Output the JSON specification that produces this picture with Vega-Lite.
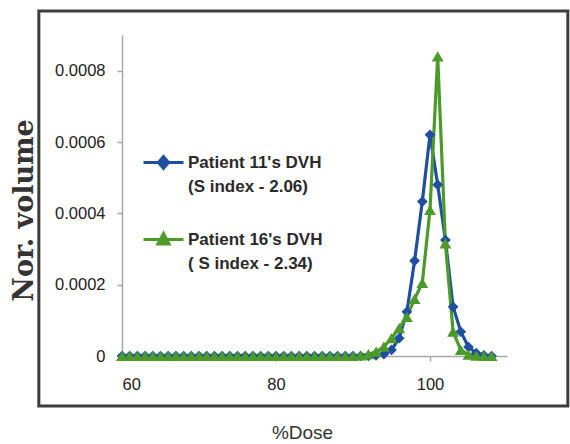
{
  "$schema": "https://vega.github.io/schema/vega-lite/v6.json",
  "width": 385,
  "height": 321,
  "autosize": {"type": "none"},
  "padding": {"left": 122, "top": 35, "right": 63, "bottom": 88},
  "background": "white",
  "config": {"view": {"stroke": null}, "font": "Liberation Sans"},
  "data": {
    "values": [
      {"dose": 60, "vol": 0, "series": "Patient 11"},
      {"dose": 61, "vol": 0, "series": "Patient 11"},
      {"dose": 62, "vol": 0, "series": "Patient 11"},
      {"dose": 63, "vol": 0, "series": "Patient 11"},
      {"dose": 64, "vol": 0, "series": "Patient 11"},
      {"dose": 65, "vol": 0, "series": "Patient 11"},
      {"dose": 66, "vol": 0, "series": "Patient 11"},
      {"dose": 67, "vol": 0, "series": "Patient 11"},
      {"dose": 68, "vol": 0, "series": "Patient 11"},
      {"dose": 69, "vol": 0, "series": "Patient 11"},
      {"dose": 70, "vol": 0, "series": "Patient 11"},
      {"dose": 71, "vol": 0, "series": "Patient 11"},
      {"dose": 72, "vol": 0, "series": "Patient 11"},
      {"dose": 73, "vol": 0, "series": "Patient 11"},
      {"dose": 74, "vol": 0, "series": "Patient 11"},
      {"dose": 75, "vol": 0, "series": "Patient 11"},
      {"dose": 76, "vol": 0, "series": "Patient 11"},
      {"dose": 77, "vol": 0, "series": "Patient 11"},
      {"dose": 78, "vol": 0, "series": "Patient 11"},
      {"dose": 79, "vol": 0, "series": "Patient 11"},
      {"dose": 80, "vol": 0, "series": "Patient 11"},
      {"dose": 81, "vol": 0, "series": "Patient 11"},
      {"dose": 82, "vol": 0, "series": "Patient 11"},
      {"dose": 83, "vol": 0, "series": "Patient 11"},
      {"dose": 84, "vol": 0, "series": "Patient 11"},
      {"dose": 85, "vol": 0, "series": "Patient 11"},
      {"dose": 86, "vol": 0, "series": "Patient 11"},
      {"dose": 87, "vol": 0, "series": "Patient 11"},
      {"dose": 88, "vol": 0, "series": "Patient 11"},
      {"dose": 89, "vol": 0, "series": "Patient 11"},
      {"dose": 90, "vol": 0, "series": "Patient 11"},
      {"dose": 91, "vol": 0, "series": "Patient 11"},
      {"dose": 92, "vol": 0, "series": "Patient 11"},
      {"dose": 93, "vol": 0.000002, "series": "Patient 11"},
      {"dose": 94, "vol": 0.000005, "series": "Patient 11"},
      {"dose": 95, "vol": 0.000017, "series": "Patient 11"},
      {"dose": 96, "vol": 0.00005, "series": "Patient 11"},
      {"dose": 97, "vol": 0.000124, "series": "Patient 11"},
      {"dose": 98, "vol": 0.000267, "series": "Patient 11"},
      {"dose": 99, "vol": 0.000433, "series": "Patient 11"},
      {"dose": 100, "vol": 0.00062, "series": "Patient 11"},
      {"dose": 101, "vol": 0.00048, "series": "Patient 11"},
      {"dose": 102, "vol": 0.000325, "series": "Patient 11"},
      {"dose": 103, "vol": 0.000138, "series": "Patient 11"},
      {"dose": 104, "vol": 0.000068, "series": "Patient 11"},
      {"dose": 105, "vol": 0.000025, "series": "Patient 11"},
      {"dose": 106, "vol": 0.000008, "series": "Patient 11"},
      {"dose": 107, "vol": 0.000002, "series": "Patient 11"},
      {"dose": 108, "vol": 0, "series": "Patient 11"},
      {"dose": 60, "vol": 0, "series": "Patient 16"},
      {"dose": 61, "vol": 0, "series": "Patient 16"},
      {"dose": 62, "vol": 0, "series": "Patient 16"},
      {"dose": 63, "vol": 0, "series": "Patient 16"},
      {"dose": 64, "vol": 0, "series": "Patient 16"},
      {"dose": 65, "vol": 0, "series": "Patient 16"},
      {"dose": 66, "vol": 0, "series": "Patient 16"},
      {"dose": 67, "vol": 0, "series": "Patient 16"},
      {"dose": 68, "vol": 0, "series": "Patient 16"},
      {"dose": 69, "vol": 0, "series": "Patient 16"},
      {"dose": 70, "vol": 0, "series": "Patient 16"},
      {"dose": 71, "vol": 0, "series": "Patient 16"},
      {"dose": 72, "vol": 0, "series": "Patient 16"},
      {"dose": 73, "vol": 0, "series": "Patient 16"},
      {"dose": 74, "vol": 0, "series": "Patient 16"},
      {"dose": 75, "vol": 0, "series": "Patient 16"},
      {"dose": 76, "vol": 0, "series": "Patient 16"},
      {"dose": 77, "vol": 0, "series": "Patient 16"},
      {"dose": 78, "vol": 0, "series": "Patient 16"},
      {"dose": 79, "vol": 0, "series": "Patient 16"},
      {"dose": 80, "vol": 0, "series": "Patient 16"},
      {"dose": 81, "vol": 0, "series": "Patient 16"},
      {"dose": 82, "vol": 0, "series": "Patient 16"},
      {"dose": 83, "vol": 0, "series": "Patient 16"},
      {"dose": 84, "vol": 0, "series": "Patient 16"},
      {"dose": 85, "vol": 0, "series": "Patient 16"},
      {"dose": 86, "vol": 0, "series": "Patient 16"},
      {"dose": 87, "vol": 0, "series": "Patient 16"},
      {"dose": 88, "vol": 0, "series": "Patient 16"},
      {"dose": 89, "vol": 0, "series": "Patient 16"},
      {"dose": 90, "vol": 0, "series": "Patient 16"},
      {"dose": 91, "vol": 0.000002, "series": "Patient 16"},
      {"dose": 92, "vol": 0.000005, "series": "Patient 16"},
      {"dose": 93, "vol": 0.000012, "series": "Patient 16"},
      {"dose": 94, "vol": 0.000026, "series": "Patient 16"},
      {"dose": 95, "vol": 0.00005, "series": "Patient 16"},
      {"dose": 96, "vol": 0.000078, "series": "Patient 16"},
      {"dose": 97, "vol": 0.00011, "series": "Patient 16"},
      {"dose": 98, "vol": 0.00016, "series": "Patient 16"},
      {"dose": 99, "vol": 0.000205, "series": "Patient 16"},
      {"dose": 100, "vol": 0.00041, "series": "Patient 16"},
      {"dose": 101, "vol": 0.00084, "series": "Patient 16"},
      {"dose": 102, "vol": 0.000316, "series": "Patient 16"},
      {"dose": 103, "vol": 0.000068, "series": "Patient 16"},
      {"dose": 104, "vol": 0.000017, "series": "Patient 16"},
      {"dose": 105, "vol": 0.000004, "series": "Patient 16"},
      {"dose": 106, "vol": 0.000001, "series": "Patient 16"},
      {"dose": 107, "vol": 0, "series": "Patient 16"},
      {"dose": 108, "vol": 0, "series": "Patient 16"}
    ]
  },
  "layer": [
    {
      "data": {"values": [{}]},
      "mark": {"type": "rect", "fill": "transparent", "stroke": "#3c3c3c", "strokeWidth": 3},
      "encoding": {
        "x": {"datum": 49.2, "type": "quantitative"},
        "x2": {"datum": 117.9},
        "y": {"datum": 0.000967, "type": "quantitative"},
        "y2": {"datum": -0.00014}
      }
    },
    {
      "mark": {"type": "line", "strokeWidth": 3.2},
      "encoding": {
        "x": {
          "field": "dose", "type": "quantitative",
          "scale": {"domain": [60, 110], "nice": false, "zero": false},
          "axis": {
            "title": "%Dose", "values": [60, 80, 100], "grid": false,
            "domainColor": "#a8a8a8", "domainWidth": 1.5, "tickColor": "#a8a8a8", "tickWidth": 1.5, "tickSize": 5,
            "labelPadding": 15, "labelFontSize": 16.5, "labelColor": "#222222", "labelFont": "Liberation Sans",
            "titleFont": "Liberation Sans", "titleFontSize": 19, "titleFontWeight": "normal", "titleColor": "#333333",
            "titleX": 180, "titleY": 76, "titleBaseline": "middle"
          }
        },
        "y": {
          "field": "vol", "type": "quantitative",
          "scale": {"domain": [0, 0.0009], "nice": false},
          "axis": {
            "title": "Nor. volume", "values": [0, 0.0002, 0.0004, 0.0006, 0.0008], "grid": false,
            "labelExpr": "datum.value == 0 ? '0' : format(datum.value, '.4f')",
            "domainColor": "#a8a8a8", "domainWidth": 1.5, "tickColor": "#a8a8a8", "tickWidth": 1.5, "tickSize": 5,
            "labelPadding": 12, "labelFontSize": 16.5, "labelColor": "#222222", "labelFont": "Liberation Sans",
            "titleFont": "DejaVu Serif", "titleFontSize": 27, "titleFontWeight": "bold", "titleColor": "#333333",
            "titleX": -98, "titleY": 175, "titleBaseline": "middle", "titleAngle": -90
          }
        },
        "color": {
          "field": "series", "type": "nominal",
          "scale": {"domain": ["Patient 11", "Patient 16"], "range": ["#1f4f9f", "#4c9a2a"]},
          "legend": {
            "title": null, "orient": "none", "legendX": 20, "legendY": 106,
            "symbolSize": 1600, "labelFontSize": 17, "labelFontWeight": "bold", "labelFont": "Liberation Sans", "labelColor": "#2a2a2a",
            "labelOffset": 3, "rowPadding": 23, "labelLimit": 300,
            "labelExpr": "datum.value == 'Patient 11' ? [\"Patient 11's DVH\", \"(S index - 2.06)\"] : [\"Patient 16's DVH\", \"( S index - 2.34)\"]",
            "encode": {
              "symbols": {
                "update": {
                  "shape": {"signal": "datum.value == 'Patient 11' ? 'M-1,0H1M-0.25,0L0,-0.3L0.25,0L0,0.3Z' : 'M-1,0H1M-0.28,0.22L0,-0.3L0.28,0.22Z'"},
                  "stroke": {"signal": "datum.value == 'Patient 11' ? '#1f4f9f' : '#4c9a2a'"},
                  "fill": {"signal": "datum.value == 'Patient 11' ? '#1f4f9f' : '#4c9a2a'"},
                  "strokeWidth": {"value": 3}
                }
              },
              "labels": {"update": {"lineHeight": {"value": 24}}}
            }
          }
        }
      }
    },
    {
      "transform": [{"filter": "datum.series == 'Patient 11'"}],
      "mark": {"type": "point", "filled": true, "opacity": 1, "shape": "diamond", "size": 115},
      "encoding": {
        "x": {"field": "dose", "type": "quantitative"},
        "y": {"field": "vol", "type": "quantitative"},
        "color": {"field": "series", "type": "nominal"}
      }
    },
    {
      "transform": [{"filter": "datum.series == 'Patient 16'"}],
      "mark": {"type": "point", "filled": true, "opacity": 1, "shape": "triangle-up", "size": 140},
      "encoding": {
        "x": {"field": "dose", "type": "quantitative"},
        "y": {"field": "vol", "type": "quantitative"},
        "color": {"field": "series", "type": "nominal"}
      }
    }
  ]
}
